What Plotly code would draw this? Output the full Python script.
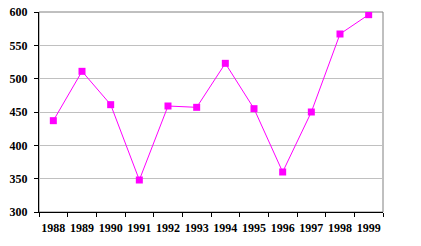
import plotly.graph_objects as go

years = ["1988", "1989", "1990", "1991", "1992", "1993", "1994", "1995", "1996", "1997", "1998", "1999"]
values = [437, 511, 461, 348, 459, 457, 523, 455, 360, 450, 567, 596]
y_ticks = [300, 350, 400, 450, 500, 550, 600]

fig = go.Figure()
fig.add_trace(go.Scatter(
    x=years, y=values, mode="lines+markers",
    line=dict(color="#ff00ff", width=1),
    marker=dict(symbol="square", size=7, color="#ff00ff"),
    showlegend=False,
))

tfont = dict(family="Times New Roman, Liberation Serif, serif", size=12, color="black", weight=700)
fig.update_layout(
    width=421, height=246,
    margin=dict(l=39, r=38, t=12, b=34),
    paper_bgcolor="white", plot_bgcolor="white",
    font=tfont,
    shapes=[dict(type="rect", xref="paper", yref="paper", x0=0, x1=1, y0=0, y1=1,
                 line=dict(color="#808080", width=1), layer="below")],
)
fig.update_xaxes(
    type="category", range=[-0.5, 11.5], tickson="boundaries",
    ticks="outside", ticklen=4, tickcolor="black", tickangle=0,
    ticklabelstandoff=5,
    showline=True, linecolor="black", linewidth=1,
    showgrid=False, tickfont=tfont, automargin=False,
    fixedrange=True,
)
fig.update_yaxes(
    range=[300, 600], tickvals=y_ticks,
    ticks="outside", ticklen=4, tickcolor="black",
    ticklabelstandoff=4,
    showline=True, linecolor="black", linewidth=1,
    showgrid=True, gridcolor="#c0c0c0", gridwidth=1, zeroline=False,
    tickfont=tfont, automargin=False,
    fixedrange=True,
)
fig.write_html("out.html", config=dict(displayModeBar=False))
